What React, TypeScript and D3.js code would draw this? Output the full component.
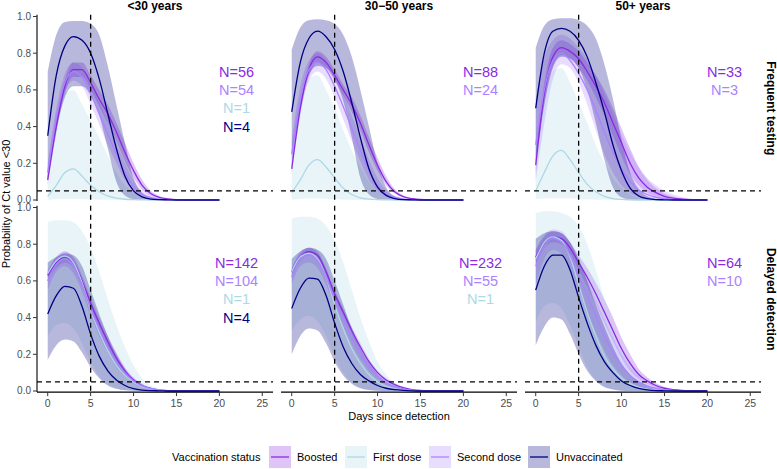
import React from "react";
import * as d3 from "d3";

// days 0..20
const days = d3.range(0, 21);
const ageGroups = ["<30 years", "30\u221250 years", "50+ years"];
const regimes = ["Frequent testing", "Delayed detection"];
const statuses = ["Boosted", "First dose", "Second dose", "Unvaccinated"];
const statusColors = ["#8A2BE2", "#ADD8E6", "#AB82FF", "#000080"];
const xTicks = [0, 5, 10, 15, 20, 25];
const yTicks = [0, 0.2, 0.4, 0.6, 0.8, 1.0];

// sample sizes per panel (row-major: frequent <30, 30-50, 50+, delayed <30, 30-50, 50+)
const nBoosted = [56, 88, 33, 142, 232, 64];
const nSecond = [54, 24, 3, 104, 55, 10];
const nFirst = [1, null, null, 1, 1, null];
const nUnvax = [4, null, null, 4, null, null];

// ---- Frequent testing, <30
const freqYoungBoostFit = [0.11,0.40,0.62,0.71,0.71,0.64,0.55,0.47,0.37,0.26,0.16,0.08,0.035,0.014,0.006,0.002,0.001,0,0,0,0];
const freqYoungBoostLo = [0.08,0.36,0.58,0.67,0.67,0.60,0.51,0.42,0.32,0.21,0.12,0.055,0.022,0.008,0.003,0.001,0,0,0,0,0];
const freqYoungBoostHi = [0.15,0.45,0.66,0.75,0.75,0.68,0.60,0.52,0.42,0.31,0.20,0.11,0.05,0.022,0.009,0.004,0.002,0.001,0,0,0];
const freqYoungFirstFit = [0.02,0.08,0.15,0.17,0.13,0.08,0.045,0.022,0.01,0.004,0.002,0.001,0,0,0,0,0,0,0,0,0];
const freqYoungFirstLo = [0.002,0.004,0.006,0.006,0.005,0.003,0.002,0.001,0,0,0,0,0,0,0,0,0,0,0,0,0];
const freqYoungFirstHi = [0.20,0.42,0.58,0.60,0.52,0.43,0.34,0.24,0.15,0.08,0.04,0.016,0.006,0.002,0.001,0,0,0,0,0,0];
const freqYoungSecondFit = [0.15,0.45,0.64,0.70,0.67,0.58,0.47,0.36,0.25,0.15,0.075,0.032,0.013,0.005,0.002,0.001,0,0,0,0,0];
const freqYoungSecondLo = [0.11,0.40,0.59,0.65,0.62,0.52,0.41,0.30,0.20,0.11,0.05,0.02,0.007,0.002,0.001,0,0,0,0,0,0];
const freqYoungSecondHi = [0.20,0.50,0.69,0.75,0.72,0.64,0.53,0.42,0.31,0.20,0.11,0.05,0.022,0.009,0.004,0.002,0.001,0,0,0,0];
const freqYoungUnvaxFit = [0.35,0.68,0.84,0.89,0.87,0.80,0.66,0.47,0.28,0.13,0.05,0.017,0.005,0.002,0.001,0,0,0,0,0,0];
const freqYoungUnvaxLo = [0.10,0.38,0.56,0.62,0.62,0.57,0.46,0.28,0.10,0.025,0.005,0.001,0,0,0,0,0,0,0,0,0];
const freqYoungUnvaxHi = [0.70,0.90,0.97,0.975,0.975,0.96,0.90,0.73,0.52,0.31,0.12,0.04,0.012,0.004,0.001,0,0,0,0,0,0];

// ---- Frequent testing, 30-50
const freqMidBoostFit = [0.17,0.50,0.71,0.78,0.75,0.68,0.60,0.52,0.42,0.30,0.19,0.10,0.045,0.018,0.007,0.003,0.001,0,0,0,0];
const freqMidBoostLo = [0.14,0.46,0.67,0.75,0.72,0.65,0.57,0.48,0.38,0.26,0.16,0.08,0.035,0.013,0.005,0.002,0.001,0,0,0,0];
const freqMidBoostHi = [0.21,0.54,0.74,0.81,0.78,0.71,0.63,0.56,0.46,0.34,0.23,0.13,0.06,0.025,0.01,0.004,0.002,0.001,0,0,0];
const freqMidFirstFit = [0.04,0.11,0.19,0.22,0.18,0.12,0.065,0.03,0.012,0.005,0.002,0.001,0,0,0,0,0,0,0,0,0];
const freqMidFirstLo = [0.003,0.006,0.008,0.008,0.007,0.005,0.003,0.001,0,0,0,0,0,0,0,0,0,0,0,0,0];
const freqMidFirstHi = [0.30,0.52,0.66,0.68,0.60,0.50,0.38,0.27,0.18,0.10,0.05,0.022,0.009,0.003,0.001,0,0,0,0,0,0];
const freqMidSecondFit = [0.25,0.55,0.71,0.75,0.71,0.62,0.51,0.39,0.27,0.16,0.08,0.035,0.014,0.005,0.002,0.001,0,0,0,0,0];
const freqMidSecondLo = [0.18,0.48,0.65,0.70,0.66,0.56,0.44,0.32,0.21,0.11,0.05,0.02,0.007,0.002,0.001,0,0,0,0,0,0];
const freqMidSecondHi = [0.33,0.62,0.76,0.80,0.76,0.68,0.58,0.46,0.34,0.22,0.12,0.055,0.024,0.01,0.004,0.002,0.001,0,0,0,0];
const freqMidUnvaxFit = [0.48,0.75,0.88,0.92,0.89,0.82,0.70,0.53,0.34,0.17,0.07,0.025,0.008,0.002,0.001,0,0,0,0,0,0];
const freqMidUnvaxLo = [0.22,0.50,0.68,0.73,0.72,0.66,0.54,0.34,0.12,0.03,0.006,0.001,0,0,0,0,0,0,0,0,0];
const freqMidUnvaxHi = [0.82,0.94,0.98,0.985,0.98,0.96,0.90,0.78,0.60,0.40,0.20,0.07,0.02,0.006,0.002,0,0,0,0,0,0];

// ---- Frequent testing, 50+
const freqOldBoostFit = [0.19,0.58,0.78,0.83,0.81,0.77,0.70,0.62,0.53,0.42,0.31,0.20,0.12,0.07,0.04,0.02,0.01,0.005,0.002,0.001,0];
const freqOldBoostLo = [0.14,0.52,0.73,0.79,0.77,0.72,0.65,0.56,0.46,0.35,0.24,0.14,0.08,0.04,0.02,0.01,0.004,0.002,0.001,0,0];
const freqOldBoostHi = [0.25,0.64,0.83,0.87,0.85,0.81,0.75,0.68,0.60,0.50,0.39,0.28,0.18,0.11,0.065,0.035,0.018,0.009,0.004,0.002,0.001];
const freqOldFirstFit = [0.05,0.15,0.24,0.27,0.22,0.15,0.085,0.045,0.02,0.008,0.003,0.001,0,0,0,0,0,0,0,0,0];
const freqOldFirstLo = [0.004,0.008,0.01,0.01,0.009,0.006,0.004,0.002,0.001,0,0,0,0,0,0,0,0,0,0,0,0];
const freqOldFirstHi = [0.35,0.58,0.70,0.72,0.64,0.53,0.42,0.30,0.20,0.12,0.065,0.03,0.012,0.004,0.001,0,0,0,0,0,0];
const freqOldSecondFit = [0.30,0.60,0.76,0.80,0.76,0.69,0.60,0.49,0.37,0.26,0.17,0.10,0.055,0.03,0.015,0.007,0.003,0.001,0,0,0];
const freqOldSecondLo = [0.10,0.42,0.66,0.74,0.72,0.64,0.52,0.38,0.25,0.15,0.08,0.04,0.018,0.007,0.003,0.001,0,0,0,0,0];
const freqOldSecondHi = [0.55,0.78,0.87,0.90,0.88,0.83,0.77,0.68,0.58,0.47,0.36,0.26,0.18,0.12,0.08,0.05,0.03,0.015,0.008,0.004,0.002];
const freqOldUnvaxFit = [0.50,0.80,0.92,0.935,0.92,0.87,0.78,0.64,0.48,0.30,0.16,0.065,0.022,0.007,0.002,0.001,0,0,0,0,0];
const freqOldUnvaxLo = [0.20,0.52,0.72,0.78,0.77,0.72,0.60,0.42,0.22,0.07,0.015,0.003,0,0,0,0,0,0,0,0,0];
const freqOldUnvaxHi = [0.83,0.95,0.985,0.99,0.99,0.98,0.95,0.88,0.74,0.55,0.33,0.15,0.06,0.02,0.006,0.002,0,0,0,0,0];

// ---- Delayed detection, <30
const delayYoungBoostFit = [0.63,0.70,0.73,0.70,0.60,0.48,0.37,0.27,0.18,0.11,0.06,0.03,0.014,0.006,0.002,0.001,0,0,0,0,0];
const delayYoungBoostLo = [0.60,0.67,0.70,0.67,0.57,0.45,0.34,0.24,0.16,0.095,0.05,0.024,0.011,0.004,0.001,0,0,0,0,0,0];
const delayYoungBoostHi = [0.66,0.73,0.76,0.73,0.63,0.51,0.40,0.30,0.21,0.13,0.075,0.04,0.019,0.008,0.003,0.001,0,0,0,0,0];
const delayYoungFirstFit = [0.64,0.71,0.735,0.70,0.59,0.44,0.32,0.22,0.14,0.085,0.048,0.024,0.011,0.005,0.002,0.001,0,0,0,0,0];
const delayYoungFirstLo = [0.30,0.36,0.37,0.34,0.26,0.16,0.08,0.035,0.014,0.005,0.001,0,0,0,0,0,0,0,0,0,0];
const delayYoungFirstHi = [0.92,0.93,0.93,0.92,0.87,0.78,0.65,0.50,0.36,0.24,0.14,0.07,0.03,0.012,0.004,0.001,0,0,0,0,0];
const delayYoungSecondFit = [0.60,0.69,0.72,0.68,0.58,0.45,0.34,0.24,0.16,0.10,0.055,0.028,0.013,0.005,0.002,0.001,0,0,0,0,0];
const delayYoungSecondLo = [0.55,0.65,0.68,0.64,0.54,0.41,0.30,0.21,0.13,0.08,0.04,0.02,0.009,0.003,0.001,0,0,0,0,0,0];
const delayYoungSecondHi = [0.65,0.73,0.76,0.72,0.62,0.49,0.38,0.28,0.19,0.12,0.07,0.037,0.018,0.008,0.003,0.001,0,0,0,0,0];
const delayYoungUnvaxFit = [0.42,0.52,0.57,0.56,0.46,0.31,0.19,0.11,0.06,0.03,0.013,0.005,0.002,0.001,0,0,0,0,0,0,0];
const delayYoungUnvaxLo = [0.17,0.25,0.28,0.27,0.21,0.13,0.07,0.03,0.012,0.004,0.001,0,0,0,0,0,0,0,0,0,0];
const delayYoungUnvaxHi = [0.70,0.73,0.75,0.74,0.68,0.55,0.42,0.30,0.20,0.12,0.06,0.03,0.012,0.005,0.002,0,0,0,0,0,0];

// ---- Delayed detection, 30-50
const delayMidBoostFit = [0.65,0.73,0.76,0.74,0.65,0.53,0.43,0.33,0.24,0.16,0.10,0.06,0.035,0.018,0.008,0.003,0.001,0,0,0,0];
const delayMidBoostLo = [0.63,0.71,0.74,0.72,0.63,0.51,0.41,0.31,0.22,0.145,0.088,0.05,0.028,0.014,0.006,0.002,0.001,0,0,0,0];
const delayMidBoostHi = [0.67,0.75,0.78,0.76,0.67,0.55,0.45,0.35,0.26,0.175,0.112,0.07,0.042,0.022,0.01,0.004,0.002,0.001,0,0,0];
const delayMidFirstFit = [0.65,0.73,0.75,0.72,0.62,0.47,0.34,0.23,0.15,0.09,0.05,0.025,0.012,0.005,0.002,0.001,0,0,0,0,0];
const delayMidFirstLo = [0.33,0.39,0.41,0.38,0.30,0.19,0.10,0.045,0.018,0.006,0.002,0,0,0,0,0,0,0,0,0,0];
const delayMidFirstHi = [0.94,0.95,0.95,0.94,0.90,0.82,0.70,0.55,0.40,0.27,0.16,0.09,0.045,0.02,0.008,0.003,0.001,0,0,0,0];
const delayMidSecondFit = [0.62,0.72,0.74,0.71,0.62,0.50,0.39,0.29,0.20,0.13,0.08,0.045,0.025,0.012,0.005,0.002,0.001,0,0,0,0];
const delayMidSecondLo = [0.58,0.68,0.70,0.67,0.58,0.46,0.35,0.25,0.17,0.105,0.062,0.033,0.017,0.008,0.003,0.001,0,0,0,0,0];
const delayMidSecondHi = [0.66,0.76,0.78,0.75,0.66,0.54,0.43,0.33,0.23,0.155,0.098,0.058,0.033,0.017,0.008,0.003,0.001,0,0,0,0];
const delayMidUnvaxFit = [0.45,0.56,0.615,0.61,0.52,0.37,0.24,0.15,0.09,0.055,0.03,0.015,0.007,0.003,0.001,0,0,0,0,0,0];
const delayMidUnvaxLo = [0.20,0.30,0.34,0.33,0.26,0.16,0.085,0.04,0.015,0.005,0.001,0,0,0,0,0,0,0,0,0,0];
const delayMidUnvaxHi = [0.72,0.76,0.78,0.77,0.72,0.60,0.47,0.34,0.23,0.15,0.09,0.05,0.025,0.01,0.004,0.001,0,0,0,0,0];

// ---- Delayed detection, 50+
const delayOldBoostFit = [0.73,0.81,0.84,0.83,0.78,0.70,0.62,0.53,0.43,0.33,0.23,0.15,0.09,0.055,0.03,0.015,0.007,0.003,0.001,0,0];
const delayOldBoostLo = [0.69,0.78,0.81,0.80,0.75,0.66,0.57,0.47,0.37,0.27,0.18,0.11,0.065,0.038,0.02,0.009,0.004,0.002,0.001,0,0];
const delayOldBoostHi = [0.77,0.84,0.87,0.86,0.81,0.74,0.67,0.59,0.50,0.40,0.29,0.20,0.12,0.075,0.042,0.022,0.011,0.005,0.002,0.001,0];
const delayOldFirstFit = [0.72,0.81,0.84,0.82,0.73,0.58,0.43,0.30,0.19,0.12,0.07,0.04,0.02,0.009,0.004,0.002,0.001,0,0,0,0];
const delayOldFirstLo = [0.38,0.46,0.48,0.45,0.36,0.24,0.13,0.06,0.025,0.008,0.002,0,0,0,0,0,0,0,0,0,0];
const delayOldFirstHi = [0.97,0.98,0.98,0.97,0.95,0.90,0.80,0.66,0.50,0.36,0.24,0.15,0.08,0.04,0.02,0.008,0.003,0.001,0,0,0];
const delayOldSecondFit = [0.68,0.79,0.83,0.81,0.74,0.63,0.52,0.41,0.30,0.21,0.14,0.085,0.05,0.028,0.015,0.007,0.003,0.001,0,0,0];
const delayOldSecondLo = [0.58,0.72,0.77,0.75,0.67,0.55,0.43,0.32,0.22,0.14,0.085,0.048,0.026,0.013,0.006,0.003,0.001,0,0,0,0];
const delayOldSecondHi = [0.77,0.85,0.88,0.87,0.81,0.71,0.61,0.50,0.39,0.29,0.20,0.13,0.08,0.047,0.027,0.014,0.007,0.003,0.001,0,0];
const delayOldUnvaxFit = [0.55,0.68,0.74,0.74,0.66,0.51,0.37,0.25,0.16,0.10,0.055,0.03,0.014,0.006,0.002,0.001,0,0,0,0,0];
const delayOldUnvaxLo = [0.25,0.35,0.40,0.39,0.31,0.20,0.11,0.055,0.022,0.008,0.002,0,0,0,0,0,0,0,0,0,0];
const delayOldUnvaxHi = [0.83,0.86,0.87,0.86,0.81,0.72,0.60,0.47,0.35,0.24,0.15,0.09,0.05,0.025,0.01,0.004,0.001,0,0,0,0];

// series order follows statuses: Boosted, First dose, Second dose, Unvaccinated
const panelSeries = [
  [[freqYoungBoostFit, freqYoungBoostLo, freqYoungBoostHi], [freqYoungFirstFit, freqYoungFirstLo, freqYoungFirstHi], [freqYoungSecondFit, freqYoungSecondLo, freqYoungSecondHi], [freqYoungUnvaxFit, freqYoungUnvaxLo, freqYoungUnvaxHi]],
  [[freqMidBoostFit, freqMidBoostLo, freqMidBoostHi], [freqMidFirstFit, freqMidFirstLo, freqMidFirstHi], [freqMidSecondFit, freqMidSecondLo, freqMidSecondHi], [freqMidUnvaxFit, freqMidUnvaxLo, freqMidUnvaxHi]],
  [[freqOldBoostFit, freqOldBoostLo, freqOldBoostHi], [freqOldFirstFit, freqOldFirstLo, freqOldFirstHi], [freqOldSecondFit, freqOldSecondLo, freqOldSecondHi], [freqOldUnvaxFit, freqOldUnvaxLo, freqOldUnvaxHi]],
  [[delayYoungBoostFit, delayYoungBoostLo, delayYoungBoostHi], [delayYoungFirstFit, delayYoungFirstLo, delayYoungFirstHi], [delayYoungSecondFit, delayYoungSecondLo, delayYoungSecondHi], [delayYoungUnvaxFit, delayYoungUnvaxLo, delayYoungUnvaxHi]],
  [[delayMidBoostFit, delayMidBoostLo, delayMidBoostHi], [delayMidFirstFit, delayMidFirstLo, delayMidFirstHi], [delayMidSecondFit, delayMidSecondLo, delayMidSecondHi], [delayMidUnvaxFit, delayMidUnvaxLo, delayMidUnvaxHi]],
  [[delayOldBoostFit, delayOldBoostLo, delayOldBoostHi], [delayOldFirstFit, delayOldFirstLo, delayOldFirstHi], [delayOldSecondFit, delayOldSecondLo, delayOldSecondHi], [delayOldUnvaxFit, delayOldUnvaxLo, delayOldUnvaxHi]],
];

const W = 777;
const H = 469;
const colX = [37, 281, 525];
const panelW = 236;
const rowZero = [200, 391]; // pixel of p = 0
const rowOne = [16.5, 207.5]; // pixel of p = 1
const font = "'Liberation Sans', Arial, Helvetica, sans-serif";

// label stack order: Boosted, Second dose, First dose, Unvaccinated
const labelRows = [
  { n: nBoosted, color: statusColors[0], y: 0.7 },
  { n: nSecond, color: statusColors[2], y: 0.6 },
  { n: nFirst, color: statusColors[1], y: 0.5 },
  { n: nUnvax, color: statusColors[3], y: 0.4 },
];

const legendKeyX = [269, 345, 429, 528];

export default function App() {
  const panels = [];
  for (let r = 0; r < 2; r++) {
    for (let c = 0; c < 3; c++) {
      const idx = r * 3 + c;
      const x = d3.scaleLinear().domain([-1.25, 26.25]).range([colX[c], colX[c] + panelW]);
      const y = d3.scaleLinear().domain([0, 1]).range([rowZero[r], rowOne[r]]);
      const top = y(1.01);
      const bottom = y(-0.006);
      const area = d3
        .area<number>()
        .x((d) => x(d))
        .curve(d3.curveMonotoneX);
      const line = d3
        .line<number>()
        .x((d) => x(d))
        .curve(d3.curveMonotoneX);
      const series = panelSeries[idx];

      panels.push(
        <g key={idx}>
          {series.map(([fit, lo, hi], s) => (
            <path
              key={"rib" + s}
              d={area.y0((d, i) => y(lo[i])).y1((d, i) => y(hi[i]))(days) || ""}
              fill={statusColors[s]}
              fillOpacity={0.28}
            />
          ))}
          {series.map(([fit], s) => (
            <path
              key={"ln" + s}
              d={line.y((d, i) => y(fit[i]))(days) || ""}
              fill="none"
              stroke={statusColors[s]}
              strokeWidth={1.3}
            />
          ))}
          <line x1={x(5)} x2={x(5)} y1={top} y2={bottom} stroke="#000" strokeWidth={1.3} strokeDasharray="5,4" />
          <line x1={colX[c]} x2={colX[c] + panelW} y1={y(0.05)} y2={y(0.05)} stroke="#000" strokeWidth={1.3} strokeDasharray="5,4" />
          {labelRows.map((lr, k) =>
            lr.n[idx] == null ? null : (
              <text
                key={"n" + k}
                x={x(22)}
                y={y(lr.y)}
                dy="0.36em"
                textAnchor="middle"
                fontSize={14.5}
                fill={lr.color}
              >
                {"N=" + lr.n[idx]}
              </text>
            )
          )}
          {c === 0 && (
            <g>
              <line x1={colX[c]} x2={colX[c]} y1={top} y2={bottom} stroke="#000" strokeWidth={1.1} />
              {yTicks.map((t) => (
                <g key={t}>
                  <line x1={colX[c] - 4} x2={colX[c]} y1={y(t)} y2={y(t)} stroke="#333" strokeWidth={1} />
                  <text x={colX[c] - 6} y={y(t)} dy="0.34em" textAnchor="end" fontSize={10} fill="#4D4D4D">
                    {t.toFixed(1)}
                  </text>
                </g>
              ))}
            </g>
          )}
          {r === 1 && (
            <g>
              <line x1={colX[c]} x2={colX[c] + panelW} y1={bottom} y2={bottom} stroke="#000" strokeWidth={1.1} />
              {xTicks.map((t) => (
                <g key={t}>
                  <line x1={x(t)} x2={x(t)} y1={bottom} y2={bottom + 4} stroke="#333" strokeWidth={1} />
                  <text x={x(t)} y={bottom + 15} textAnchor="middle" fontSize={10.5} fill="#4D4D4D">
                    {t}
                  </text>
                </g>
              ))}
            </g>
          )}
          {r === 0 && (
            <text x={colX[c] + panelW / 2} y={10} textAnchor="middle" fontSize={12} fontWeight="bold" fill="#000">
              {ageGroups[c]}
            </text>
          )}
          {c === 2 && (
            <text
              transform={`translate(767,${(rowZero[r] + rowOne[r]) / 2}) rotate(90)`}
              textAnchor="middle"
              fontSize={12}
              fontWeight="bold"
              fill="#000"
            >
              {regimes[r]}
            </text>
          )}
        </g>
      );
    }
  }

  return (
    <svg
      width={W}
      height={H}
      style={{ position: "absolute", left: 0, top: 0, background: "#fff" }}
      fontFamily={font}
    >
      <rect width={W} height={H} fill="#fff" />
      {panels}
      <text transform="translate(10,204) rotate(-90)" textAnchor="middle" fontSize={11} fill="#000">
        Probability of Ct value &lt;30
      </text>
      <text x={colX[1] + panelW / 2} y={420} textAnchor="middle" fontSize={11} fill="#000">
        Days since detection
      </text>
      <g>
        <text x={172} y={461} fontSize={11} fill="#000">
          Vaccination status
        </text>
        {statuses.map((s, i) => (
          <g key={s}>
            <rect x={legendKeyX[i]} y={446} width={22} height={22} fill={statusColors[i]} fillOpacity={0.28} />
            <line x1={legendKeyX[i] + 2} x2={legendKeyX[i] + 20} y1={457} y2={457} stroke={statusColors[i]} strokeWidth={1.3} />
            <text x={legendKeyX[i] + 28} y={461} fontSize={11} fill="#000">
              {s}
            </text>
          </g>
        ))}
      </g>
    </svg>
  );
}
